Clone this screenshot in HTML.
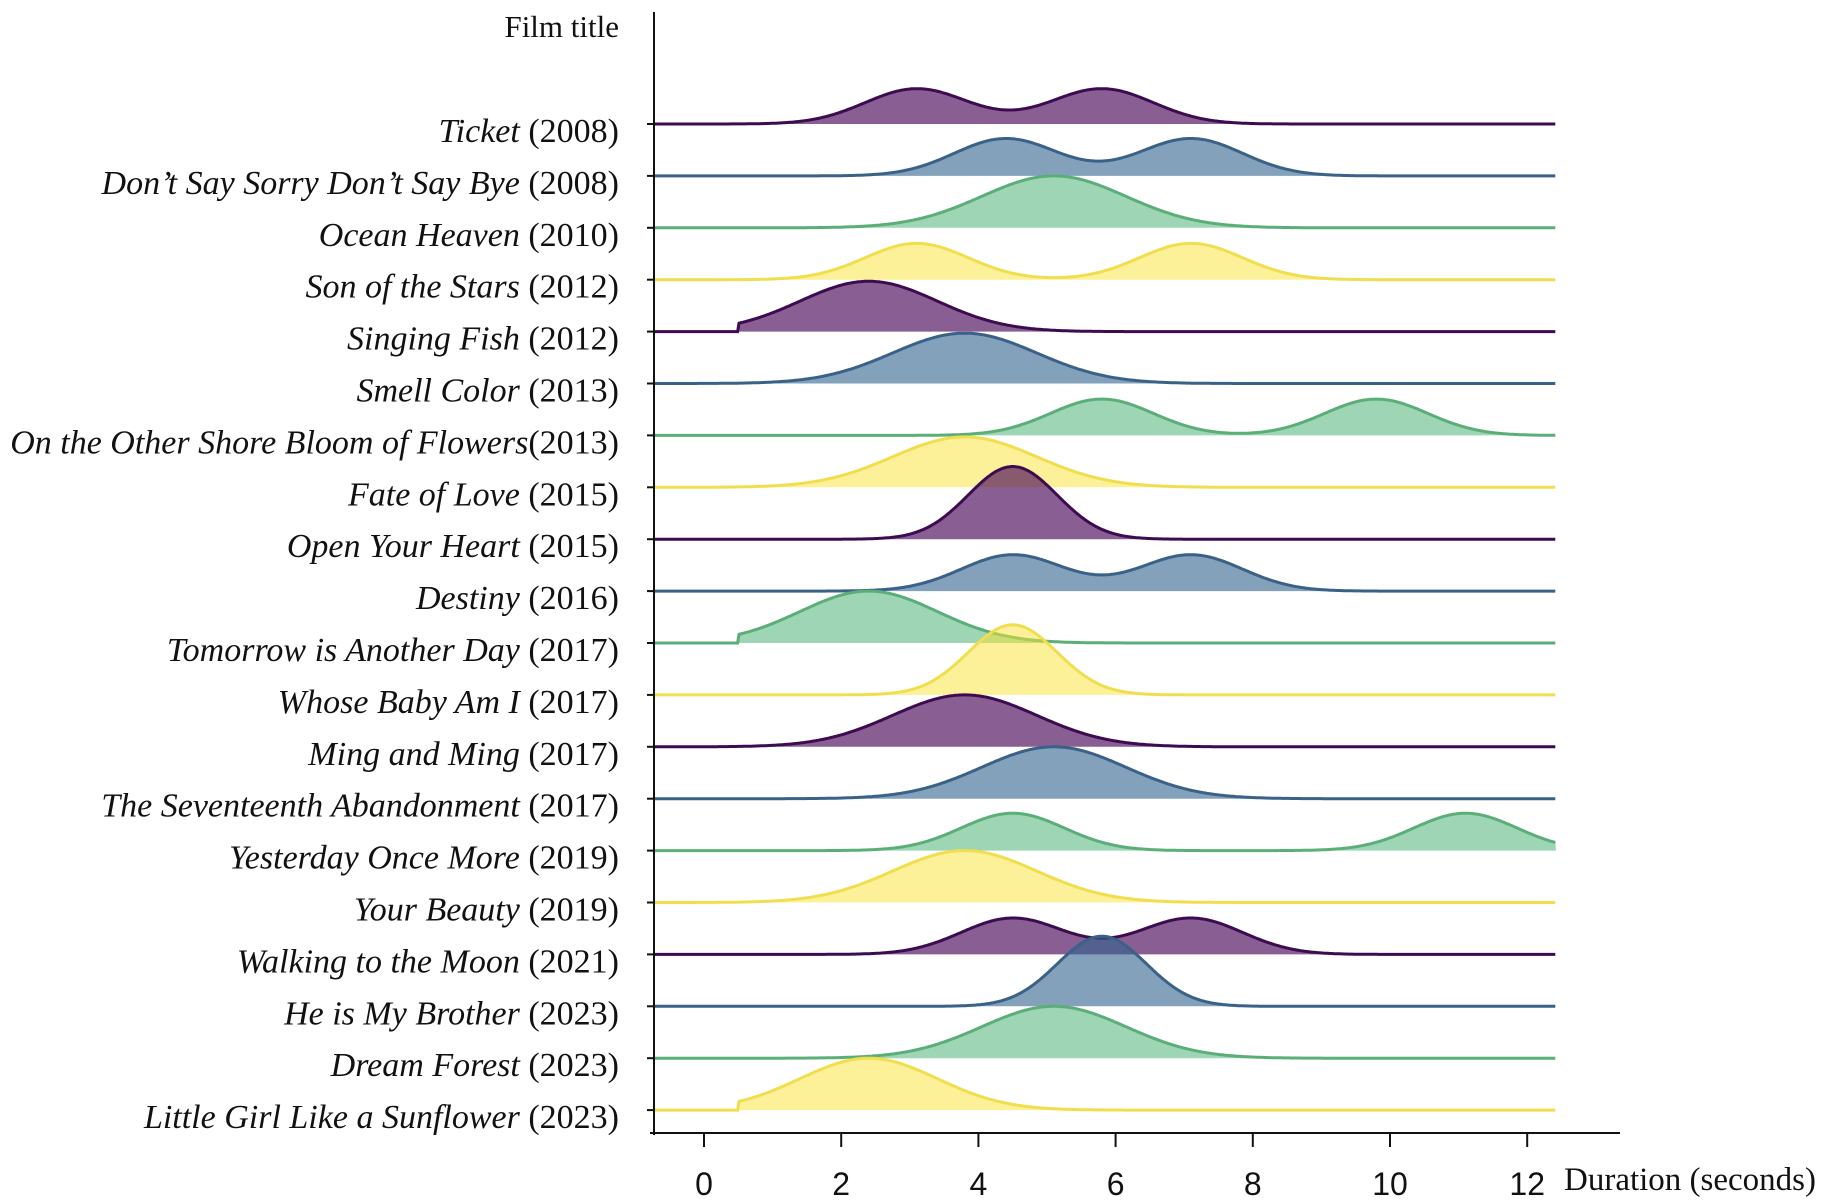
<!DOCTYPE html>
<html><head><meta charset="utf-8"><style>
html,body{margin:0;padding:0;background:#fff;}
svg{display:block;}
text{font-family:"Liberation Serif",serif;fill:#111;}
</style></head><body>
<svg id="chart" width="1831" height="1203" viewBox="0 0 1831 1203" xmlns="http://www.w3.org/2000/svg">
<g id="ridges"></g>
<g id="axes"></g>
</svg>
<script>
const titles = ["Ticket","Don\u2019t Say Sorry Don\u2019t Say Bye","Ocean Heaven","Son of the Stars","Singing Fish","Smell Color","On the Other Shore Bloom of Flowers","Fate of Love","Open Your Heart ","Destiny ","Tomorrow is Another Day","Whose Baby Am I","Ming and Ming","The Seventeenth Abandonment ","Yesterday Once More","Your Beauty ","Walking to the Moon","He is My Brother","Dream Forest ","Little Girl Like a Sunflower "];
const years = [" (2008)"," (2008)"," (2010)"," (2012)"," (2012)"," (2013)","(2013)"," (2015)"," (2015)"," (2016)"," (2017)"," (2017)"," (2017)"," (2017)"," (2019)"," (2019)"," (2021)"," (2023)"," (2023)"," (2023)"];
const peakMeans = [[3.1,5.8],[4.4,7.1],[5.1],[3.1,7.1],[2.4],[3.8],[5.8,9.8],[3.8],[4.5],[4.5,7.1],[2.4],[4.5],[3.8],[5.1],[4.5,11.1],[3.8],[4.5,7.1],[5.8],[5.1],[2.4]];
const peakHeights = [[0.68,0.68],[0.72,0.72],[1.0],[0.7,0.7],[0.97],[0.97],[0.7,0.7],[0.97],[1.4],[0.7,0.7],[1.0],[1.35],[1.0],[1.0],[0.72,0.72],[1.0],[0.7,0.7],[1.35],[1.0],[1.0]];
const peakSD = [[0.75,0.75],[0.75,0.75],[1.05],[0.75,0.75],[1.0],[1.05],[0.75,0.75],[1.05],[0.65],[0.75,0.75],[1.0],[0.65],[1.05],[1.05],[0.75,0.75],[1.05],[0.75,0.75],[0.65],[1.05],[1.0]];
const lowerBound = [null,null,null,null,0.5,null,null,null,null,null,0.5,null,null,null,null,null,null,null,null,0.5];
const xTicks = [0,2,4,6,8,10,12];
const palette = ["purple","blue","green","yellow"];

const NS="http://www.w3.org/2000/svg";
const X0=704, XS=68.6, Y0=124, YS=51.9;
const xMin=-0.73, xMax=12.42;
const sx=v=>X0+v*XS;
const sy=i=>Y0+i*YS;
const stroke={purple:"#3d0b50",blue:"#3a6188",green:"#5bae78",yellow:"#f1de4f"};
const fill={purple:"rgba(68,1,84,0.63)",blue:"rgba(49,98,142,0.6)",green:"rgba(53,168,100,0.48)",yellow:"rgba(250,228,50,0.5)"};
function mk(tag,attrs,parent){const e=document.createElementNS(NS,tag);for(const k in attrs)e.setAttribute(k,attrs[k]);parent.appendChild(e);return e;}
const ridges=document.getElementById('ridges'), axes=document.getElementById('axes');

titles.forEach((t,i)=>{
  const base=sy(i), col=palette[i%4];
  const lo=lowerBound[i];
  let pts=[];
  for(let v=xMin; v<=xMax+1e-9; v+=0.02){
    let d=0;
    if(lo===null||v>=lo){
      peakMeans[i].forEach((m,k)=>{d+=peakHeights[i][k]*Math.exp(-0.5*((v-m)/peakSD[i][k])**2);});
    }
    pts.push([sx(v),base-d*YS]);
  }
  const line=pts.map((p,j)=>(j?"L":"M")+p[0].toFixed(1)+","+p[1].toFixed(1)).join(" ");
  const area=line+` L${sx(xMax).toFixed(1)},${base} L${sx(xMin).toFixed(1)},${base} Z`;
  const a=mk('path',{d:area,fill:fill[col],stroke:'none'},ridges);
  
  
  const l=mk('path',{d:line,fill:'none',stroke:stroke[col],'stroke-width':3},ridges);
  
  
  const tk=mk('line',{x1:647,x2:654,y1:base,y2:base,stroke:'#111','stroke-width':2},axes);
  
  
  const tx=mk('text',{x:619,y:base+18,'text-anchor':'end','font-size':34},axes);
  
  
  const s1=mk('tspan',{'font-style':'italic'},tx); s1.textContent=t;
  const s2=mk('tspan',{},tx); s2.textContent=years[i];
});

const yAxis=mk('line',{x1:654,x2:654,y1:12,y2:1135,stroke:'#111','stroke-width':2},axes);


const xAxis=mk('line',{x1:650,x2:1620,y1:1133,y2:1133,stroke:'#111','stroke-width':2},axes);


xTicks.forEach(v=>{
  const t=mk('line',{x1:sx(v),x2:sx(v),y1:1133,y2:1147,stroke:'#111','stroke-width':2},axes);
  
  
  const l=mk('text',{x:sx(v),y:1195,'text-anchor':'middle','font-size':32,style:'font-family:"Liberation Sans Narrow","Liberation Sans",sans-serif'},axes);
  
  
  l.textContent=v;
});
const xt=mk('text',{x:1564,y:1190,'font-size':33},axes);


xt.textContent="Duration (seconds)";
const yt=mk('text',{x:619,y:37,'text-anchor':'end','font-size':31},axes);


yt.textContent="Film title";
</script>
</body></html>
